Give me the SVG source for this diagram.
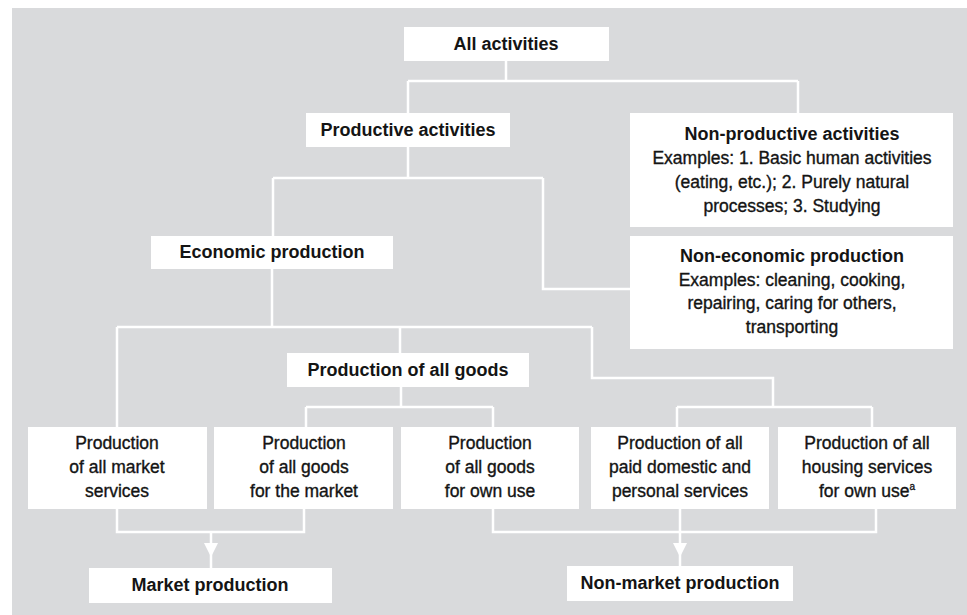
<svg xmlns="http://www.w3.org/2000/svg" width="967" height="615" viewBox="0 0 967 615">
<style>
.bg{fill:#d9dadc}
.box{fill:#ffffff}
.c{fill:none;stroke:#ffffff;stroke-width:2.5}
.arr{fill:#ffffff}
text{font-family:"Liberation Sans",Arial,sans-serif;fill:#141414;text-anchor:middle}
.h{font-size:18px;font-weight:bold}
.t{font-size:17.5px;stroke:#141414;stroke-width:0.35}
</style>
<defs>
<path id="arrow" class="arr" d="M-7,0 L7,0 L0,14 Z"/>
</defs>
<rect class="bg" x="12" y="8" width="955" height="607"/>
<g id="connectors">
<path class="c" d="M506,61 V81 M408,81 H798 M408,81 V113 M798,81 V113"/>
<path class="c" d="M408,147 V178 M273,178 H543 M273,178 V236 M543,178 V289 H630"/>
<path class="c" d="M272,269 V327 M117,327 H592 M117,327 V427 M400,327 V353 M592,327 V378 H773 V407"/>
<path class="c" d="M401,387 V407 M306,407 H493 M306,407 V427 M493,407 V427"/>
<path class="c" d="M677,407 H872 M677,407 V427 M872,407 V427"/>
<path class="c" d="M117,509 V532 H304 V509 M211,532 V568"/>
<path class="c" d="M493,509 V532 H876 V509 M680,509 V566"/>
<use href="#arrow" x="211" y="543"/>
<use href="#arrow" x="680" y="543"/>
</g>
<g id="all-activities">
<rect class="box" x="404" y="27" width="205" height="34"/>
<text class="h" x="506" y="50">All activities</text>
</g>
<g id="productive-activities">
<rect class="box" x="306" y="113" width="204" height="34"/>
<text class="h" x="408" y="136">Productive activities</text>
</g>
<g id="non-productive-activities">
<rect class="box" x="630" y="113" width="323" height="114"/>
<text class="h" x="792" y="140">Non-productive activities</text>
<text class="t" x="792" y="164">Examples: 1. Basic human activities</text>
<text class="t" x="792" y="188">(eating, etc.); 2. Purely natural</text>
<text class="t" x="792" y="212">processes; 3. Studying</text>
</g>
<g id="economic-production">
<rect class="box" x="151" y="236" width="242" height="33"/>
<text class="h" x="272" y="258">Economic production</text>
</g>
<g id="non-economic-production">
<rect class="box" x="630" y="236" width="323" height="113"/>
<text class="h" x="792" y="262">Non-economic production</text>
<text class="t" x="792" y="286">Examples: cleaning, cooking,</text>
<text class="t" x="792" y="309">repairing, caring for others,</text>
<text class="t" x="792" y="333">transporting</text>
</g>
<g id="production-all-goods">
<rect class="box" x="287" y="353" width="242" height="34"/>
<text class="h" x="408" y="376">Production of all goods</text>
</g>
<g id="market-services">
<rect class="box" x="28" y="427" width="179" height="82"/>
<text class="t" x="117" y="449">Production</text>
<text class="t" x="117" y="473">of all market</text>
<text class="t" x="117" y="497">services</text>
</g>
<g id="goods-market">
<rect class="box" x="214" y="427" width="179" height="82"/>
<text class="t" x="304" y="449">Production</text>
<text class="t" x="304" y="473">of all goods</text>
<text class="t" x="304" y="497">for the market</text>
</g>
<g id="goods-own-use">
<rect class="box" x="401" y="427" width="178" height="82"/>
<text class="t" x="490" y="449">Production</text>
<text class="t" x="490" y="473">of all goods</text>
<text class="t" x="490" y="497">for own use</text>
</g>
<g id="domestic-services">
<rect class="box" x="591" y="427" width="178" height="82"/>
<text class="t" x="680" y="449">Production of all</text>
<text class="t" x="680" y="473">paid domestic and</text>
<text class="t" x="680" y="497">personal services</text>
</g>
<g id="housing-services">
<rect class="box" x="778" y="427" width="178" height="82"/>
<text class="t" x="867" y="449">Production of all</text>
<text class="t" x="867" y="473">housing services</text>
<text class="t" x="867" y="497">for own use<tspan font-size="10" dy="-7">a</tspan></text>
</g>
<g id="market-production">
<rect class="box" x="89" y="568" width="243" height="35"/>
<text class="h" x="210" y="591">Market production</text>
</g>
<g id="non-market-production">
<rect class="box" x="567" y="566" width="226" height="35"/>
<text class="h" x="680" y="589">Non-market production</text>
</g>
</svg>
